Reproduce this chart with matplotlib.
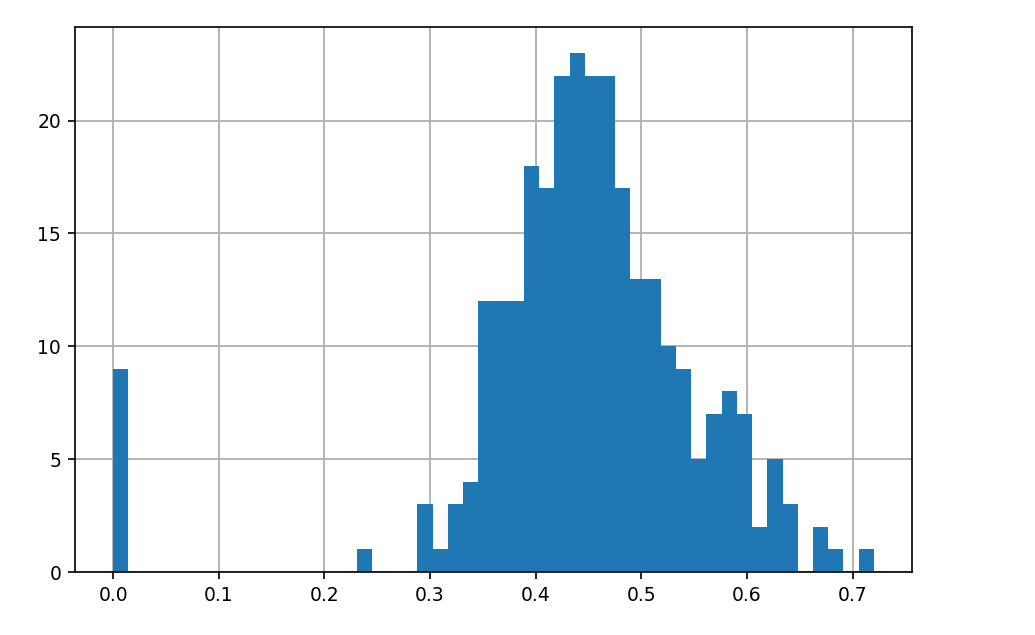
import numpy as np
import matplotlib
matplotlib.use("Agg")
import matplotlib.pyplot as plt

# Histogram counts for 50 equal bins spanning 0.0 .. 0.72
x_min = 0.0
x_max = 0.72
n_bins = 50
counts = [9, 0, 0, 0, 0, 0, 0, 0, 0, 0,
          0, 0, 0, 0, 0, 0, 1, 0, 0, 0,
          3, 1, 3, 4, 12, 12, 12, 18, 17, 22,
          23, 22, 22, 17, 13, 13, 10, 9, 5, 7,
          8, 7, 2, 5, 3, 0, 2, 1, 0, 1]
x_ticks = [0.0, 0.1, 0.2, 0.3, 0.4, 0.5, 0.6, 0.7]
y_ticks = [0, 5, 10, 15, 20]

edges = np.linspace(x_min, x_max, n_bins + 1)
centers = (edges[:-1] + edges[1:]) / 2

fig = plt.figure(figsize=(10.35, 6.35), dpi=100)
ax = fig.add_axes([0.0725, 0.0992, 0.8085, 0.8583])
ax.hist(centers, bins=edges, weights=counts, color="#1f77b4", zorder=2)
ax.grid(True, color="#b0b0b0", linewidth=1.3, zorder=0)
ax.set_axisbelow(True)
ax.set_xticks(x_ticks)
ax.set_yticks(y_ticks)
ax.set_xlim(-0.036, 0.756)
ax.set_ylim(0, 24.15)
ax.tick_params(labelsize=13.5, length=5, width=1.2, pad=5)
for s in ax.spines.values():
    s.set_linewidth(1.2)
fig.savefig("out.png", dpi=100)
